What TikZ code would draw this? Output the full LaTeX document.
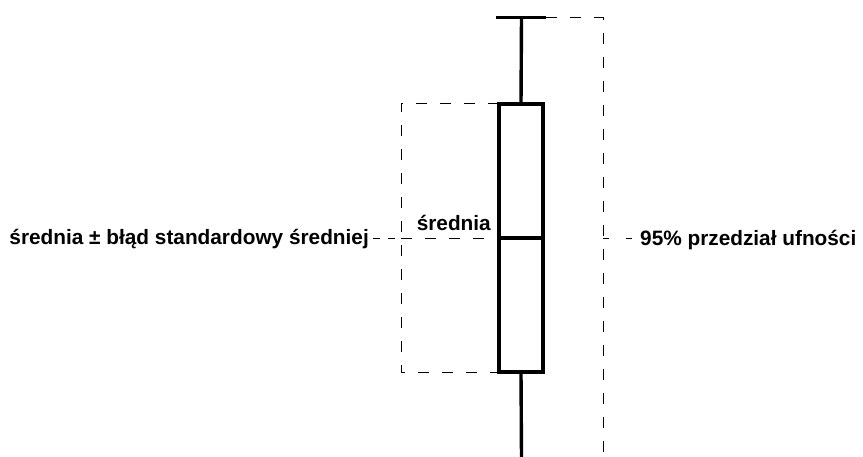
\documentclass[tikz,border=0pt]{standalone}
\usepackage{fontspec}
\setmainfont{Liberation Sans}
\begin{document}
\begin{tikzpicture}[x=1pt,y=-1pt,
  thick3/.style={line width=3.4pt},
  dsh/.style={line width=1pt,dash pattern=on 11pt off 13pt},
  lbl/.style={font=\fontsize{20.8}{24}\selectfont\bfseries,inner sep=0pt}]
\useasboundingbox (0,0) rectangle (863,456);
\clip (0,0) rectangle (863,456);
\fill[white] (0,0) rectangle (863,456);
% coordinates
\coordinate (capTL) at (496,17.5);
\coordinate (capTR) at (546,17.5);
\coordinate (wTop) at (521.5,17.5);
\coordinate (capBL) at (496,458.5);
\coordinate (capBR) at (546,458.5);
\coordinate (wBot) at (521.5,458);
\coordinate (lTop) at (401,103);
\coordinate (lBot) at (401,372);
\coordinate (lMid) at (401,238);
\coordinate (rTop) at (603,17.5);
\coordinate (rBot) at (603,460);
\coordinate (rMid) at (603,238);
% box
\node[draw,thick3,minimum width=44pt,minimum height=268pt,inner sep=0pt,outer sep=0pt] (box) at (521,238) {};
\draw[thick3] (box.west |- lMid) -- (box.east |- lMid);
% whiskers
\draw[thick3] (capTL) -- (capTR);
\draw[thick3] (wTop) -- (box.north);
\draw[thick3] (box.south) -- (wBot);
\draw[thick3,black!35] (capBL) -- (capBR);
% labels
\node[lbl,anchor=base east] (lbl1) at (369,244) {średnia ± błąd standardowy średniej};
\node[lbl,anchor=base east] (lbl2) at (491,230) {średnia};
\node[lbl,anchor=base west] (lbl3) at (640,245) {95\% przedział ufności};
% dashed left
\draw[dsh] (box.north west |- lTop) -- (lTop) -- (lBot) -- (box.south west |- lBot);
\draw[line width=1pt,dash pattern=on 7pt off 8pt] ([xshift=4pt]lbl1.east |- lMid) -- (lMid);
\draw[dsh] (lMid) -- (box.west |- lMid);
% dashed right
\draw[dsh] (capTR) -- (rTop) -- (rBot);
\draw[line width=1pt,dash pattern=on 6pt off 17pt] (rMid) -- (lbl3.west |- rMid);
\end{tikzpicture}
\end{document}
